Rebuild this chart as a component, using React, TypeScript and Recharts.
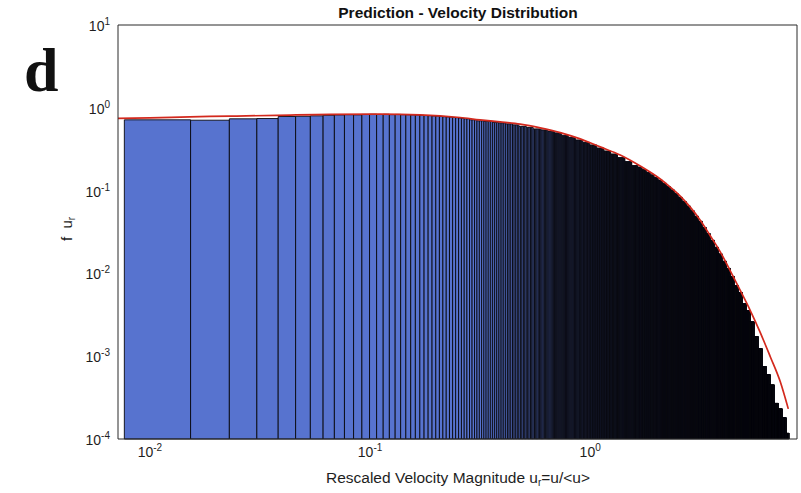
import React from 'react';
import { ComposedChart, XAxis, YAxis, Line, ReferenceArea } from 'recharts';

const X_DOMAIN: [number, number] = [0.00716, 8.7];
const Y_DOMAIN: [number, number] = [1e-4, 10];

// histogram bins are linear, width w: bin k covers k*w .. (k+1)*w
const BIN_WIDTH = 0.00765;
const LAST_EDGE = 8.0;

// the first bins are wide enough on the log axis to read one by one
const firstBins = [
  0.716, 0.708, 0.736, 0.742, 0.785, 0.79, 0.8, 0.812, 0.82, 0.826, 0.822,
  0.832, 0.836, 0.83, 0.835, 0.828, 0.832, 0.826, 0.824, 0.82, 0.818, 0.812,
  0.806, 0.804, 0.797, 0.792, 0.786, 0.781, 0.775, 0.77, 0.764, 0.76, 0.753,
];

// past that the bars merge: top of the bars read at these u (nearest reading used)
const envU = [
  0.2565, 0.276, 0.297, 0.3195, 0.3438, 0.37, 0.398, 0.4284, 0.4609, 0.4959,
  0.5337, 0.5742, 0.6179, 0.6649, 0.7155, 0.7699, 0.8284, 0.8913, 0.959, 1.032,
  1.11, 1.195, 1.286, 1.383, 1.488, 1.602, 1.688, 1.76, 1.835, 1.913, 1.995,
  2.081, 2.17, 2.263, 2.359, 2.46, 2.565, 2.675, 2.79, 2.908, 3.032, 3.162,
  3.297, 3.439, 3.585, 3.739, 3.899, 4.066, 4.24, 4.421, 4.609, 4.806, 5.012,
  5.226, 5.45, 5.683, 5.926, 6.179, 6.444, 6.719, 7.006, 7.305, 7.617, 7.943,
];
const envF = [
  0.746, 0.736, 0.716, 0.696, 0.686, 0.667, 0.658, 0.64, 0.622, 0.597,
  0.58, 0.556, 0.541, 0.519, 0.498, 0.464, 0.439, 0.409, 0.382, 0.356,
  0.327, 0.301, 0.277, 0.251, 0.2246, 0.2009, 0.1927, 0.1792, 0.1666, 0.155, 0.1441,
  0.1341, 0.1226, 0.1121, 0.102, 0.0922, 0.0834, 0.0738, 0.0653, 0.0571, 0.0493, 0.0427,
  0.0359, 0.0302, 0.0252, 0.0208, 0.0172, 0.0141, 0.0115, 0.0092, 0.00715, 0.00589, 0.0043,
  0.00356, 0.0026, 0.00172, 0.00123, 0.00075, 0.000597, 0.00045, 0.00027, 0.000231, 0.00018, 0.000118,
];

// fitted curve (red)
const curveU = [
  0.00716, 0.01, 0.0152, 0.0231, 0.0378, 0.0658, 0.111, 0.1688, 0.2565, 0.316,
  0.39, 0.481, 0.593, 0.731, 0.901, 1.11, 1.369, 1.688, 2.081, 2.31, 2.565,
  2.848, 3.162, 3.511, 3.899, 4.329, 4.806, 5.337, 5.926, 6.579, 7.305, 7.943,
];
const curveF = [
  0.746, 0.756, 0.778, 0.793, 0.811, 0.834, 0.839, 0.823, 0.763, 0.715,
  0.676, 0.634, 0.572, 0.502, 0.421, 0.337, 0.269, 0.198, 0.138, 0.1103, 0.0858,
  0.0631, 0.0439, 0.0285, 0.01822, 0.01072, 0.00622, 0.00356, 0.00193, 0.000986, 0.000491, 0.000231,
];

const xMajor = [0.01, 0.1, 1];
const xMinor = [
  0.008, 0.009, 0.02, 0.03, 0.04, 0.05, 0.06, 0.07, 0.08, 0.09,
  0.2, 0.3, 0.4, 0.5, 0.6, 0.7, 0.8, 0.9, 2, 3, 4, 5, 6, 7, 8,
];
const yMajor = [1e-4, 1e-3, 1e-2, 1e-1, 1, 10];
const yMinor = [
  2e-4, 3e-4, 4e-4, 5e-4, 6e-4, 7e-4, 8e-4, 9e-4,
  2e-3, 3e-3, 4e-3, 5e-3, 6e-3, 7e-3, 8e-3, 9e-3,
  0.02, 0.03, 0.04, 0.05, 0.06, 0.07, 0.08, 0.09,
  0.2, 0.3, 0.4, 0.5, 0.6, 0.7, 0.8, 0.9,
  2, 3, 4, 5, 6, 7, 8, 9,
];

type Bin = { lo: number; hi: number; f: number };
const bins: Bin[] = [];
for (let k = 1; (k + 1) * BIN_WIDTH <= LAST_EDGE; k++) {
  const lo = k * BIN_WIDTH;
  const hi = lo + BIN_WIDTH;
  let f: number;
  if (k <= firstBins.length) {
    f = firstBins[k - 1];
  } else {
    const c = Math.log((lo + hi) / 2);
    let best = 0;
    for (let j = 1; j < envU.length; j++) {
      if (Math.abs(Math.log(envU[j]) - c) < Math.abs(Math.log(envU[best]) - c)) best = j;
    }
    f = envF[best];
  }
  bins.push({ lo, hi, f });
}

const curve = curveU.map((u, i) => ({ u, f: curveF[i] }));

const AXIS = '#2a2a2a';
const TEXT = '#1e1e1e';
const FONT = '"Liberation Sans", Arial, Helvetica, sans-serif';
const BAR_FILL = '#5773cf';
const BAR_EDGE = '#08080d';
const THIN = 0.001; // tick-only axes take no room

function XTick({ x, y, payload }: any) {
  const e = Math.round(Math.log10(payload.value));
  return (
    <text x={x} y={y + 10} textAnchor="middle" fontSize={14} fill={TEXT} fontFamily={FONT}>
      10<tspan dy={-6} fontSize={10}>{e}</tspan>
    </text>
  );
}

function YTick({ x, y, payload }: any) {
  const e = Math.round(Math.log10(payload.value));
  return (
    <text x={x} y={y + 6} textAnchor="end" fontSize={14} fill={TEXT} fontFamily={FONT}>
      10<tspan dy={-6} fontSize={10}>{e}</tspan>
    </text>
  );
}

export default function App() {
  return (
    <div style={{ position: 'absolute', left: 0, top: 0, width: 801, height: 493, background: '#fff' }}>
      <ComposedChart width={801} height={493} margin={{ top: 25, right: 4, bottom: 0, left: 0 }}>
        <XAxis
          dataKey="u"
          type="number"
          scale="log"
          domain={X_DOMAIN}
          allowDataOverflow
          ticks={xMajor}
          interval={0}
          tick={<XTick />}
          tickLine={false}
          axisLine={{ stroke: AXIS }}
          height={54}
        />
        <XAxis xAxisId="bMaj" type="number" scale="log" domain={X_DOMAIN} allowDataOverflow ticks={xMajor} interval={0}
          mirror height={THIN} tick={false} tickSize={5} axisLine={false} tickLine={{ stroke: AXIS }} />
        <XAxis xAxisId="bMin" type="number" scale="log" domain={X_DOMAIN} allowDataOverflow ticks={xMinor} interval={0}
          mirror height={THIN} tick={false} tickSize={3} axisLine={false} tickLine={{ stroke: AXIS }} />
        <XAxis xAxisId="tMaj" orientation="top" type="number" scale="log" domain={X_DOMAIN} allowDataOverflow ticks={xMajor} interval={0}
          mirror height={THIN} tick={false} tickSize={5} axisLine={{ stroke: AXIS }} tickLine={{ stroke: AXIS }} />
        <XAxis xAxisId="tMin" orientation="top" type="number" scale="log" domain={X_DOMAIN} allowDataOverflow ticks={xMinor} interval={0}
          mirror height={THIN} tick={false} tickSize={3} axisLine={false} tickLine={{ stroke: AXIS }} />

        <YAxis
          type="number"
          scale="log"
          domain={Y_DOMAIN}
          allowDataOverflow
          ticks={yMajor}
          interval={0}
          tick={<YTick />}
          tickLine={false}
          axisLine={{ stroke: AXIS }}
          width={118}
        />
        <YAxis yAxisId="lMaj" type="number" scale="log" domain={Y_DOMAIN} allowDataOverflow ticks={yMajor} interval={0}
          mirror width={THIN} tick={false} tickSize={5} axisLine={false} tickLine={{ stroke: AXIS }} />
        <YAxis yAxisId="lMin" type="number" scale="log" domain={Y_DOMAIN} allowDataOverflow ticks={yMinor} interval={0}
          mirror width={THIN} tick={false} tickSize={3} axisLine={false} tickLine={{ stroke: AXIS }} />
        <YAxis yAxisId="rMaj" orientation="right" type="number" scale="log" domain={Y_DOMAIN} allowDataOverflow ticks={yMajor} interval={0}
          mirror width={THIN} tick={false} tickSize={5} axisLine={{ stroke: AXIS }} tickLine={{ stroke: AXIS }} />
        <YAxis yAxisId="rMin" orientation="right" type="number" scale="log" domain={Y_DOMAIN} allowDataOverflow ticks={yMinor} interval={0}
          mirror width={THIN} tick={false} tickSize={3} axisLine={false} tickLine={{ stroke: AXIS }} />

        {bins.map((b, i) => (
          <ReferenceArea
            key={i}
            x1={b.lo}
            x2={b.hi}
            y1={Y_DOMAIN[0]}
            y2={b.f}
            fill={BAR_FILL}
            fillOpacity={1}
            stroke={BAR_EDGE}
            strokeWidth={0.9}
            strokeOpacity={1}
            ifOverflow="visible"
          />
        ))}

        <Line
          data={curve}
          dataKey="f"
          type="monotone"
          stroke="#d3291d"
          strokeWidth={1.7}
          dot={false}
          isAnimationActive={false}
        />
      </ComposedChart>

      <svg width={801} height={493} style={{ position: 'absolute', left: 0, top: 0, pointerEvents: 'none' }}>
        <text x={24} y={91} fontFamily='"Liberation Serif", "Times New Roman", serif' fontWeight="bold" fontSize={62} fill="#111">
          d
        </text>
        <text x={458} y={18} textAnchor="middle" fontWeight="bold" fontSize={15.5} fontFamily={FONT} fill="#111">
          Prediction - Velocity Distribution
        </text>
        <text x={458} y={483} textAnchor="middle" fontSize={15.5} fontFamily={FONT} fill={TEXT}>
          Rescaled Velocity Magnitude u<tspan dy={3} fontSize={10}>r</tspan>
          <tspan dy={-3}>=u/&lt;u&gt;</tspan>
        </text>
        <text transform="translate(72,229) rotate(-90)" textAnchor="middle" fontSize={15} fontFamily={FONT} fill={TEXT}>
          {'f\u00a0\u00a0u'}<tspan dy={3} fontSize={10}>r</tspan>
        </text>
      </svg>
    </div>
  );
}
